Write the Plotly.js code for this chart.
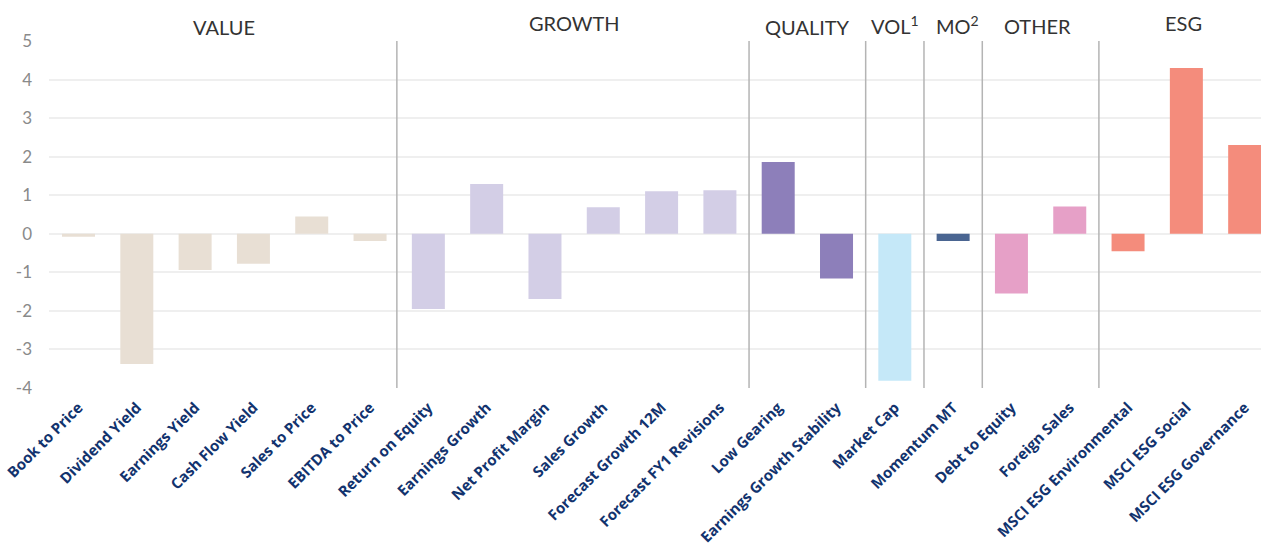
<!DOCTYPE html>
<html>
<head>
<meta charset="utf-8">
<script src="https://cdn.plot.ly/plotly-3.0.1.min.js"></script>
<style>html,body{margin:0;padding:0;background:#fff;}#chart{width:1261px;height:553px;}</style>
</head>
<body>
<div id="chart"></div>
<script>
const categories = ["Book to Price","Dividend Yield","Earnings Yield","Cash Flow Yield","Sales to Price","EBITDA to Price",
  "Return on Equity","Earnings Growth","Net Profit Margin","Sales Growth","Forecast Growth 12M","Forecast FY1 Revisions",
  "Low Gearing","Earnings Growth Stability","Market Cap","Momentum MT","Debt to Equity","Foreign Sales",
  "MSCI ESG Environmental","MSCI ESG Social","MSCI ESG Governance"];
const values = [-0.08,-3.38,-0.94,-0.78,0.45,-0.19,
  -1.95,1.29,-1.69,0.69,1.10,1.13,
  1.86,-1.16,-3.81,-0.19,-1.55,0.71,
  -0.45,4.30,2.30];
const groupOf = [0,0,0,0,0,0, 1,1,1,1,1,1, 2,2, 3, 4, 5,5, 6,6,6];
const groupNames = ["VALUE","GROWTH","QUALITY","VOL<sup>1</sup>","MO<sup>2</sup>","OTHER","ESG"];
const groupColors = ["#e8dfd4","#d3cee6","#8d7fba","#c5e8f8","#4a6591","#e6a0c7","#f48c7c"];
const yTickVals = [-4,-3,-2,-1,0,1,2,3,4,5];
const yTickText = ["-4","-3","-2","-1","0","1","2","3","4","5"];

const firstIdx = [], lastIdx = [];
groupOf.forEach((g,i)=>{ if(firstIdx[g]===undefined) firstIdx[g]=i; lastIdx[g]=i; });
const titleY = [1.040,1.052,1.040,1.046,1.046,1.043,1.052];

const xIdx = categories.map((c,i)=>i);
const trace = {
  type: 'bar',
  x: xIdx,
  y: values,
  marker: {color: groupOf.map(g=>groupColors[g])},
  hoverinfo: 'skip'
};

const shapes = [];
for (let g=1; g<groupNames.length; g++) {
  const xb = (lastIdx[g-1] + firstIdx[g]) / 2;
  shapes.push({type:'line', xref:'x', yref:'y', x0:(g===1?xb-0.04:xb), x1:(g===1?xb-0.04:xb), y0:-4, y1:5,
    line:{color:'#b4b4b4', width:1.5}, layer:'above'});
}
const annotations = groupNames.map((n,g)=>({
  text: n, xref:'x', yref:'paper',
  x: (firstIdx[g]+lastIdx[g])/2 + (g===4?0.08:(g===5?-0.06:(g===6?-0.05:0))),
  y: titleY[g], xanchor:'center', yanchor:'middle', showarrow:false,
  font:{family:'Lato, "Open Sans", sans-serif', size:20, color:'#333333'}
}));

const layout = {
  width: 1261, height: 553,
  margin: {l:49, r:0, t:41, b:165, pad:0},
  paper_bgcolor:'#ffffff', plot_bgcolor:'#ffffff',
  showlegend:false,
  bargap: 0.434,
  xaxis: {
    range:[-0.506, 20.28], tickmode:'array', tickvals:xIdx, ticktext:categories,
    tickangle:-45, showgrid:false, zeroline:false, showline:false, ticks:'',
    ticklabelstandoff:7, ticklabeloverflow:'allow',
    tickfont:{family:'"Open Sans", sans-serif', size:15, color:'#12336e', weight:'bold'},
    automargin:false, fixedrange:true
  },
  yaxis: {
    range:[-4,5], tickmode:'array', tickvals:yTickVals, ticktext:yTickText,
    showgrid:true, gridcolor:'#efefef', gridwidth:2,
    zeroline:true, zerolinecolor:'#efefef', zerolinewidth:2,
    showline:false, ticks:'', ticklabelstandoff:16,
    tickfont:{family:'Lato, "Open Sans", sans-serif', size:17, color:'#8a8a8a'},
    automargin:false, fixedrange:true
  },
  shapes: shapes,
  annotations: annotations,
  font:{family:'Lato, "Open Sans", sans-serif'}
};
Plotly.newPlot('chart',[trace],layout,{displayModeBar:false, staticPlot:true});
</script>
</body>
</html>
